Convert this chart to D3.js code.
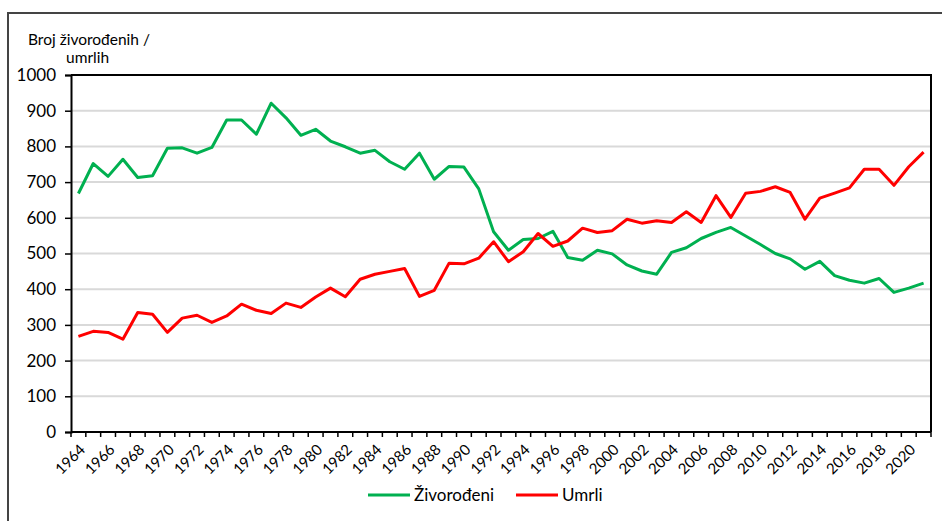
<!DOCTYPE html>
<html>
<head>
<meta charset="utf-8">
<script src="https://cdn.jsdelivr.net/npm/d3@7"></script>
<style>
  html, body { margin: 0; padding: 0; background: #fff; }
  svg { display: block; }
  text { font-family: Lato, "Liberation Sans", Arial, sans-serif; fill: #000; }
</style>
</head>
<body>
<svg id="chart" width="942" height="521"></svg>
<script>
const years = d3.range(1964, 2022);
const zivorodeni = [668, 752, 716, 764, 713, 718, 795, 796, 781, 797,
  874, 874, 834, 921, 880, 831, 848, 815, 799, 781,
  789, 757, 736, 781, 708, 744, 742, 681, 561, 509,
  539, 542, 562, 489, 481, 509, 499, 468, 451, 442,
  503, 516, 542, 559, 573, 549, 525, 500, 485, 456,
  478, 438, 425, 417, 430, 391, 403, 417];
const umrli = [268, 282, 279, 260, 335, 330, 279, 319, 327, 307,
  325, 358, 341, 332, 361, 349, 378, 403, 379, 428,
  442, 450, 458, 380, 397, 473, 471, 487, 533, 477,
  505, 556, 520, 535, 571, 559, 564, 596, 585, 592,
  587, 617, 587, 662, 601, 669, 674, 687, 671, 596,
  655, 669, 684, 736, 736, 691, 743, 784];
const yTicks = [0, 100, 200, 300, 400, 500, 600, 700, 800, 900, 1000];
const xTickLabels = years.filter(y => (y - 1964) % 2 === 0);
const seriesNames = ["Živorođeni", "Umrli"];
const seriesColors = ["#00b050", "#ff0000"];
const yTitle = ["Broj živorođenih /", "umrlih"];

const svg = d3.select("#chart");
const L = 71, R = 931, T = 75, B = 432;

// outer frame
svg.append("rect").attr("x", 8).attr("y", 13).attr("width", 960).attr("height", 540)
  .attr("fill", "none").attr("stroke", "#444").attr("stroke-width", 2);

const x = d3.scaleBand().domain(years).range([L, R]).padding(0);
const y = d3.scaleLinear().domain([0, 1000]).range([B, T]);

// gridlines
svg.append("g").selectAll("line").data(yTicks.filter(t => t > 0 && t < 1000)).join("line")
  .attr("x1", L).attr("x2", R).attr("y1", d => y(d)).attr("y2", d => y(d))
  .attr("stroke", "#d9d9d9").attr("stroke-width", 2);

// y axis
const yAxis = d3.axisLeft(y).tickValues(yTicks).tickSize(6).tickPadding(9).tickFormat(d3.format("d"));
const gy = svg.append("g").attr("transform", `translate(${L},0)`).call(yAxis);
gy.select(".domain").attr("stroke", "#000").attr("stroke-width", 2);
gy.selectAll(".tick line").attr("stroke", "#000").attr("stroke-width", 1.5);
gy.selectAll(".tick text").style("font-size", "17px").style("font-family", "Lato, 'Liberation Sans', Arial, sans-serif");

// top and right border of plot
svg.append("path").attr("d", `M${L},${T}H${R}V${B}`).attr("fill", "none")
  .attr("stroke", "#000").attr("stroke-width", 2);

// x axis with ticks at band boundaries
const xb = d3.scaleLinear().domain([0, years.length]).range([L, R]);
const gx = svg.append("g");
gx.append("line").attr("x1", L).attr("x2", R).attr("y1", B).attr("y2", B)
  .attr("stroke", "#000").attr("stroke-width", 2);
gx.selectAll("line.t").data(d3.range(0, years.length + 1)).join("line").attr("class", "t")
  .attr("x1", d => xb(d)).attr("x2", d => xb(d)).attr("y1", B).attr("y2", B + 5)
  .attr("stroke", "#000").attr("stroke-width", 1.5);
gx.selectAll("text").data(xTickLabels).join("text")
  .attr("transform", d => `translate(${x(d) + x.bandwidth() / 2 + 4},${B + 15}) rotate(-45)`)
  .attr("text-anchor", "end").attr("dy", "0.35em")
  .style("font-size", "15px")
  .text(d => d);

// y title
svg.append("text").attr("x", 28).attr("y", 45).style("font-size", "15.5px").text(yTitle[0]);
svg.append("text").attr("x", 66).attr("y", 63).style("font-size", "15.5px").text(yTitle[1]);

// lines
const line = d3.line().x((d, i) => x(years[i]) + x.bandwidth() / 2).y(d => y(d));
[zivorodeni, umrli].forEach((s, k) => {
  svg.append("path").datum(s).attr("d", line).attr("fill", "none")
    .attr("stroke", seriesColors[k]).attr("stroke-width", 3)
    .attr("stroke-linejoin", "round");
});

// legend
const legX = [368, 516];
seriesNames.forEach((n, k) => {
  svg.append("line").attr("x1", legX[k]).attr("x2", legX[k] + 42).attr("y1", 495).attr("y2", 495)
    .attr("stroke", seriesColors[k]).attr("stroke-width", 3);
  svg.append("text").attr("x", legX[k] + 46).attr("y", 501).style("font-size", "17px").text(n);
});
</script>
</body>
</html>
